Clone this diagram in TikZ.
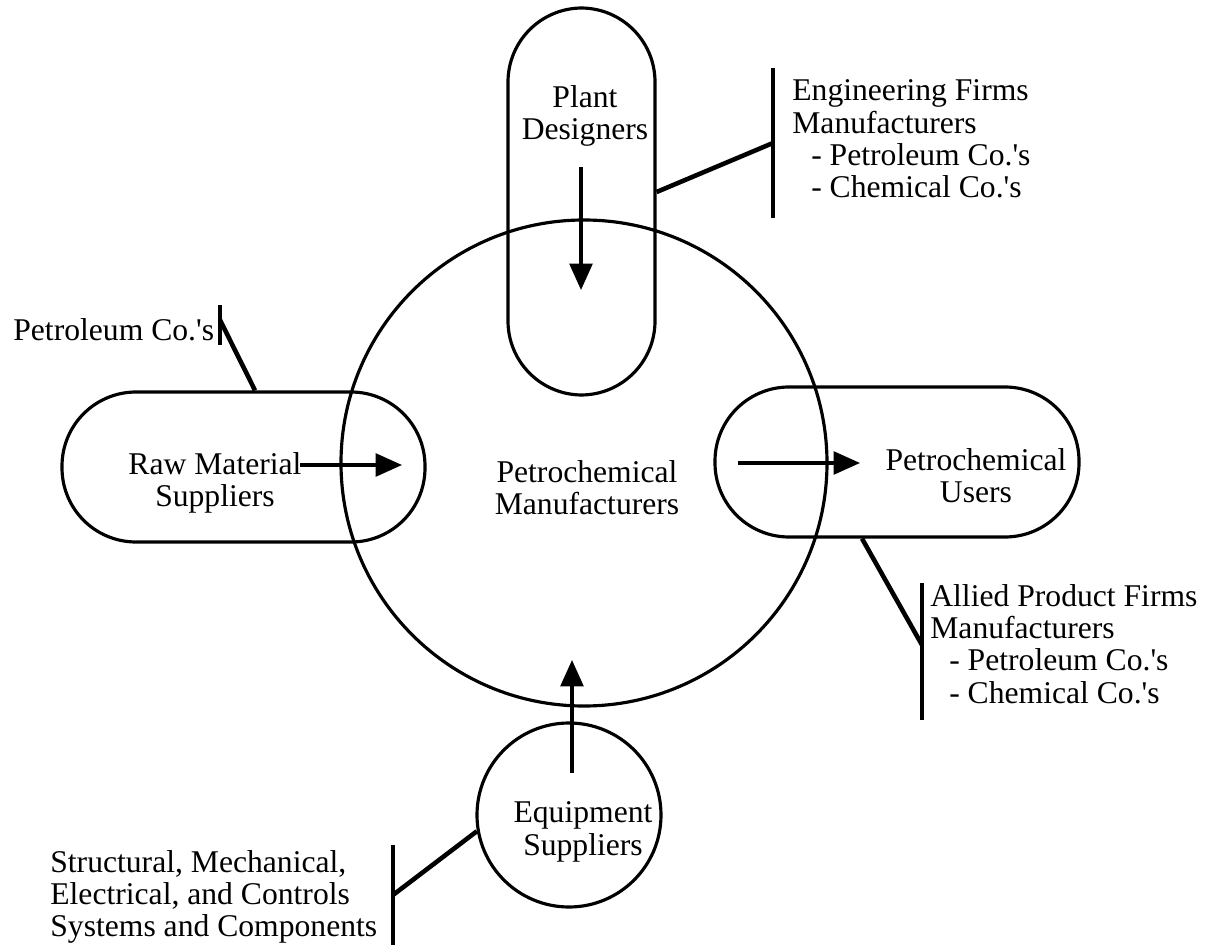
\documentclass[tikz,border=0pt]{standalone}
\usepackage{fontspec}
\setmainfont{Liberation Serif}
\usetikzlibrary{arrows.meta}

\newcommand{\apos}{\textquotesingle}	%straight quote as in the scan

\tikzset{
	outline/.style={draw, line width=1.8pt, inner sep=0pt},
	pill/.style={outline, rectangle, rounded corners=1.48cm},
	flow/.style={line width=1.8pt, -{Triangle[length=15pt,width=13pt]}},
	tie/.style={line width=2.6pt},
	bar/.style={line width=1.8pt},
	lbl/.style={align=center, inner sep=0pt, font=\fontsize{18}{18.4}\selectfont},
	side/.style={lbl, align=left, anchor=west}
}

\begin{document}
\begin{tikzpicture}
	\useasboundingbox (0,0) rectangle (24.24,18.98);

	% the shapes
	\node[outline, circle, minimum size=9.72cm] (mfr) at (11.68,9.72) {};		%Manufacturers
	\node[pill, minimum width=2.94cm, minimum height=7.74cm] (pd) at (11.63,14.95) {};	%Designers
	\node[pill, minimum width=7.26cm, minimum height=3cm] (rms) at (4.87,9.64) {};	%Raw material
	\node[pill, minimum width=7.28cm, minimum height=3cm] (pu) at (17.94,9.74) {};	%Users
	\node[outline, circle, minimum size=3.68cm] (es) at (11.38,2.68) {};		%Equipment

	% labels inside
	\node[lbl] (mfrlbl) at (11.74,9.22) {Petrochemical\\Manufacturers};
	\node[lbl] (pdlbl) at (11.70,16.66) {Plant\\Designers};
	\node[lbl] (rmslbl) at (4.30,9.32) {Raw Material\\Suppliers};
	\node[lbl] (pulbl) at (19.52,9.46) {Petrochemical\\Users};
	\node[lbl] (eslbl) at (11.66,2.34) {Equipment\\Suppliers};

	% flows
	\coordinate (pdout) at (11.62,15.64);
	\coordinate (pdin) at (11.62,13.18);
	\coordinate (rmsout) at (6.00,9.68);
	\coordinate (rmsin) at (8.04,9.68);
	\coordinate (puout) at (14.76,9.72);
	\coordinate (puin) at (17.20,9.72);
	\coordinate (esout) at (11.44,3.52);
	\coordinate (esin) at (11.44,5.78);
	\draw[flow] (pdout) -- (pdin);
	\draw[flow] (rmsout) -- (rmsin);
	\draw[flow] (puout) -- (puin);
	\draw[flow] (esout) -- (esin);

	% side lists with their bars
	\coordinate (engtop) at (15.46,17.62);
	\coordinate (engbot) at (15.46,14.62);
	\coordinate (engmid) at (15.46,16.12);
	\draw[bar] (engtop) -- (engbot);
	\draw[tie] ([yshift=0.19cm]pd.east) -- (engmid);
	\node[side] (englbl) at (15.84,16.2) {Engineering Firms\\Manufacturers\\\hspace*{0.6em}- Petroleum Co.\apos s\\\hspace*{0.6em}- Chemical Co.\apos s};

	\coordinate (pettop) at (4.40,12.88);
	\coordinate (petbot) at (4.40,12.08);
	\coordinate (petmid) at (4.40,12.58);
	\draw[bar] (pettop) -- (petbot);
	\draw[tie] ([xshift=0.23cm]rms.north) -- (petmid);
	\node[side] (petlbl) at (0.26,12.38) {Petroleum Co.\apos s};

	\coordinate (alltop) at (18.44,7.32);
	\coordinate (allbot) at (18.44,4.58);
	\coordinate (allmid) at (18.44,6.08);
	\draw[bar] (alltop) -- (allbot);
	\draw[tie] ([xshift=-0.70cm]pu.south) -- (allmid);
	\node[side] (alllbl) at (18.60,6.10) {Allied Product Firms\\Manufacturers\\\hspace*{0.6em}- Petroleum Co.\apos s\\\hspace*{0.6em}- Chemical Co.\apos s};

	\coordinate (strtop) at (7.86,2.08);
	\coordinate (strbot) at (7.86,0.08);
	\coordinate (strmid) at (7.86,1.08);
	\draw[bar] (strtop) -- (strbot);
	\draw[tie] (es.190) -- (strmid);
	\node[side] (strlbl) at (1.00,1.04) {Structural, Mechanical,\\Electrical, and Controls\\Systems and Components};
\end{tikzpicture}
\end{document}
